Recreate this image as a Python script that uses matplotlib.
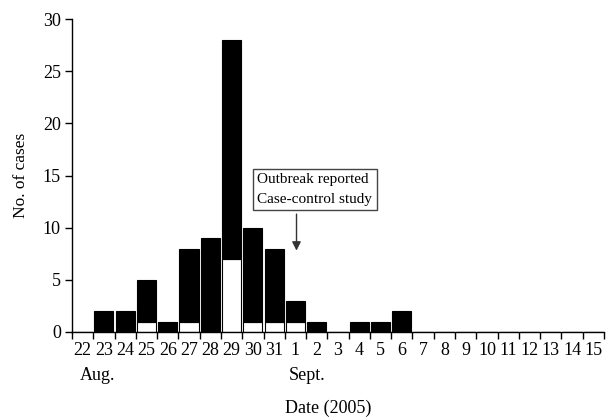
import matplotlib
matplotlib.use("Agg")
import matplotlib.pyplot as plt
import numpy as np

days = ["22", "23", "24", "25", "26", "27", "28", "29", "30", "31",
        "1", "2", "3", "4", "5", "6", "7", "8", "9", "10", "11", "12", "13", "14", "15"]
total_cases = [0, 2, 2, 5, 1, 8, 9, 28, 10, 8, 3, 1, 0, 1, 1, 2, 0, 0, 0, 0, 0, 0, 0, 0, 0]
white_cases = [0, 0, 0, 1, 0, 1, 0, 7, 1, 1, 1, 0, 0, 0, 0, 0, 0, 0, 0, 0, 0, 0, 0, 0, 0]
black_cases = [t - w for t, w in zip(total_cases, white_cases)]

plt.rcParams['font.family'] = ['Liberation Serif', 'DejaVu Serif']

fig = plt.figure(figsize=(6.06, 4.2), dpi=100)
ax = fig.add_axes([72/606, 1 - 332/420, (604-72)/606, (332-19)/420])

x = np.arange(len(days))
ax.bar(x, white_cases, width=0.9, color='white', edgecolor='black', linewidth=0.8)
ax.bar(x, black_cases, bottom=white_cases, width=0.9, color='black', edgecolor='black', linewidth=0.8)

ax.set_xlim(-0.5, len(days) - 0.5)
ax.set_ylim(0, 30)
ax.set_yticks([0, 5, 10, 15, 20, 25, 30])
ax.set_xticks(x)
ax.set_xticklabels(days)
ax.set_xticks(np.arange(-0.5, len(days), 1), minor=True)
ax.tick_params(axis='x', which='major', length=0, pad=7, labelsize=13)
ax.tick_params(axis='x', which='minor', length=5, width=1, direction='out')
ax.tick_params(axis='y', length=5, width=1, direction='out', labelsize=13, pad=3)
for s in ['top', 'right']:
    ax.spines[s].set_visible(False)
for s in ['left', 'bottom']:
    ax.spines[s].set_linewidth(1)

ax.set_ylabel("No. of cases", fontsize=12.5, labelpad=10)

ax.text(-0.15, -3.4, "Aug.", ha='left', va='top', fontsize=13, clip_on=False)
ax.text(9.7, -3.4, "Sept.", ha='left', va='top', fontsize=13, clip_on=False)
fig.text(328/606, 1 - 413/420, "Date (2005)", ha='center', va='baseline', fontsize=13)

ax.text(8.2, 13.65, "Outbreak reported\nCase-control study", ha='left', va='center',
        fontsize=11, linespacing=1.65,
        bbox=dict(boxstyle='square,pad=0.3', facecolor='white', edgecolor='#444444', linewidth=1))
ax.annotate("", xy=(10.05, 7.8), xytext=(10.05, 11.3),
            arrowprops=dict(arrowstyle='-|>', color='#333333', lw=1, mutation_scale=13,
                            shrinkA=0, shrinkB=0))

fig.savefig("out.png", dpi=100)
